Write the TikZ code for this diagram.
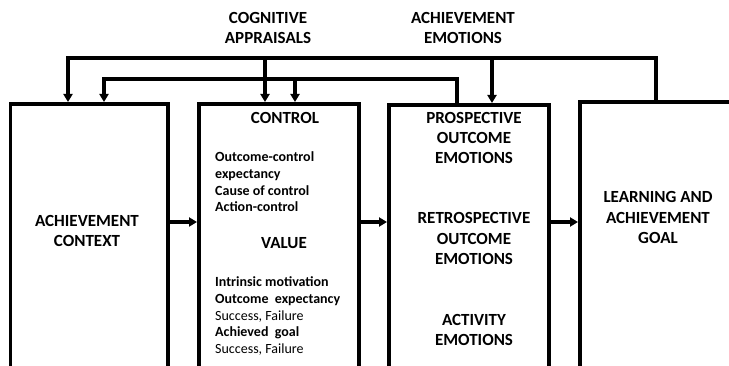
\documentclass[tikz,border=0pt]{standalone}
\usepackage{fontspec}
\setmainfont{Carlito}
\usetikzlibrary{arrows.meta}
\begin{document}
\begin{tikzpicture}[x=1pt,y=-1pt,
  box/.style={draw, line width=3.6pt, rectangle, minimum height=320pt, anchor=north west, inner sep=0pt},
  link/.style={line width=3.2pt, -{Triangle[length=8pt,width=9pt]}},
  lab/.style={font=\fontsize{17}{20.3}\selectfont\bfseries, align=center, inner sep=0pt},
  item/.style={font=\fontsize{14}{16.8}\selectfont\bfseries, anchor=base west, inner sep=0pt},
  sub/.style={font=\fontsize{14}{16.8}\selectfont, anchor=base west, inner sep=0pt}]
\useasboundingbox (0,0) rectangle (729,366);
\clip (0,0) rectangle (729,366);
% boxes
\node[box, minimum width=157.5pt] (b1) at (8.5,102) {};
\node[box, minimum width=160pt] (b2) at (197,102) {};
\node[box, minimum width=160pt] (b3) at (387,103) {};
\node[box, minimum width=200pt] (b4) at (578,100) {};
% top labels
\node[lab] (cog) at (268,28) {COGNITIVE\\APPRAISALS};
\node[lab] (aem) at (463,28) {ACHIEVEMENT\\EMOTIONS};
% box texts
\node[lab] (ctx) at (87,231) {ACHIEVEMENT\\CONTEXT};
\node[lab] (ctl) at (285,118) {CONTROL};
\node[lab] (val) at (284,243) {VALUE};
\node[item] (c1) at (215,161.5) {Outcome-control};
\node[item] (c2) at (215,178.3) {expectancy};
\node[item] (c3) at (215,195.1) {Cause of control};
\node[item] (c4) at (215,211.9) {Action-control};
\node[item] (v1) at (215,286.5) {Intrinsic motivation};
\node[item] (v2) at (215,303.3) {Outcome\ \ expectancy};
\node[sub] (v3) at (215,320.1) {Success, Failure};
\node[item] (v4) at (215,336.9) {Achieved\ \ goal};
\node[sub] (v5) at (215,353.7) {Success, Failure};
\node[lab] (pro) at (474,138) {PROSPECTIVE\\OUTCOME\\EMOTIONS};
\node[lab] (ret) at (474,238.5) {RETROSPECTIVE\\OUTCOME\\EMOTIONS};
\node[lab] (act) at (474,330) {ACTIVITY\\EMOTIONS};
\node[lab] (goal) at (658,217.5) {LEARNING AND\\ACHIEVEMENT\\GOAL};
% forward arrows
\coordinate (mid) at (0,222);
\draw[link] (b1.east |- mid) -- (b2.west |- mid);
\draw[link] (b2.east |- mid) -- (b3.west |- mid);
\draw[link] (b3.east |- mid) -- (b4.west |- mid);
% feedback lines
\coordinate (outer) at (0,58);
\coordinate (inner) at (0,79);
\draw[link] (b4.north -| 656,0) |- (68,58) -- (b1.north -| 68,0);
\draw[link] (265,58) -- (b2.north -| 265,0);
\draw[link] (492,58) -- (b3.north -| 492,0);
\draw[link] (b3.north -| 457,0) |- (104,79) -- (b1.north -| 104,0);
\draw[link] (295,79) -- (b2.north -| 295,0);
\end{tikzpicture}
\end{document}
